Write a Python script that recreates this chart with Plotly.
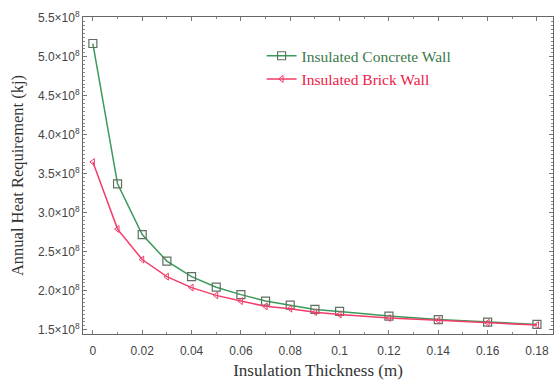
import plotly.graph_objects as go

thickness = [0, 0.01, 0.02, 0.03, 0.04, 0.05, 0.06, 0.07, 0.08, 0.09, 0.10, 0.12, 0.14, 0.16, 0.18]
concrete = [5.17e8, 3.37e8, 2.72e8, 2.38e8, 2.18e8, 2.045e8, 1.95e8, 1.867e8, 1.815e8, 1.76e8, 1.734e8, 1.675e8, 1.63e8, 1.598e8, 1.568e8]
brick = [3.65e8, 2.79e8, 2.40e8, 2.18e8, 2.04e8, 1.94e8, 1.867e8, 1.80e8, 1.77e8, 1.725e8, 1.695e8, 1.65e8, 1.62e8, 1.59e8, 1.56e8]

y_tickvals = [1.5e8, 2.0e8, 2.5e8, 3.0e8, 3.5e8, 4.0e8, 4.5e8, 5.0e8, 5.5e8]
y_ticktext = ["1.5×10<sup>8</sup>", "2.0×10<sup>8</sup>", "2.5×10<sup>8</sup>", "3.0×10<sup>8</sup>",
              "3.5×10<sup>8</sup>", "4.0×10<sup>8</sup>", "4.5×10<sup>8</sup>", "5.0×10<sup>8</sup>",
              "5.5×10<sup>8</sup>"]
x_tickvals = [0, 0.02, 0.04, 0.06, 0.08, 0.1, 0.12, 0.14, 0.16, 0.18]
x_ticktext = ["0", "0.02", "0.04", "0.06", "0.08", "0.1", "0.12", "0.14", "0.16", "0.18"]

green = "#3a9a5a"
red = "#f23c6a"

fig = go.Figure()
fig.add_trace(go.Scatter(
    x=thickness, y=concrete, mode="lines+markers",
    name='<span style="color:#3a7a4a">Insulated Concrete Wall</span>',
    line=dict(color=green, width=1.5),
    marker=dict(symbol="square-open", size=8, color="#607060", line=dict(width=1.2)),
))
fig.add_trace(go.Scatter(
    x=thickness, y=brick, mode="lines+markers",
    name='<span style="color:#f01848">Insulated Brick Wall</span>',
    line=dict(color=red, width=1.5),
    marker=dict(symbol="triangle-left-open", size=6, color=red, line=dict(width=1)),
))

axis_common = dict(
    showline=True, linecolor="#666666", linewidth=1, mirror="ticks",
    ticks="inside", tickcolor="#777777", ticklen=4, showgrid=False, zeroline=False,
    automargin=False,
    tickfont=dict(family="Liberation Sans, Arial, sans-serif", size=12, color="#444444"),
)

fig.update_layout(
    width=558, height=385,
    margin=dict(l=83, r=5, t=17, b=51),
    paper_bgcolor="white", plot_bgcolor="white",
    xaxis=dict(
        range=[-0.004, 0.1865], tickvals=x_tickvals, ticktext=x_ticktext,
        minor=dict(ticks="inside", dtick=0.01, tick0=0, ticklen=2, tickcolor="#888888"),
        title=dict(text="Insulation Thickness (m)", standoff=6,
                   font=dict(family="Liberation Serif, Times New Roman, serif", size=17, color="#333333")),
        ticklabelstandoff=6,
        **axis_common,
    ),
    yaxis=dict(
        range=[1.445e8, 5.51e8], tickvals=y_tickvals, ticktext=y_ticktext,
        minor=dict(ticks="inside", dtick=0.05e8, tick0=0, ticklen=2, tickcolor="#888888"),
        title=dict(text="Annual Heat Requirement (kj)", standoff=10,
                   font=dict(family="Liberation Serif, Times New Roman, serif", size=16.5, color="#333333")),
        **axis_common,
    ),
    legend=dict(
        x=0.38, y=0.93, xanchor="left", yanchor="top",
        bgcolor="rgba(0,0,0,0)", borderwidth=0,
        font=dict(family="Liberation Serif, Times New Roman, serif", size=15.5),
        tracegroupgap=6, itemwidth=30,
    ),
    showlegend=True,
)

fig.write_html("out.html", config={"displayModeBar": False},
               post_script="document.body.style.margin='0';document.body.style.overflow='hidden';")
